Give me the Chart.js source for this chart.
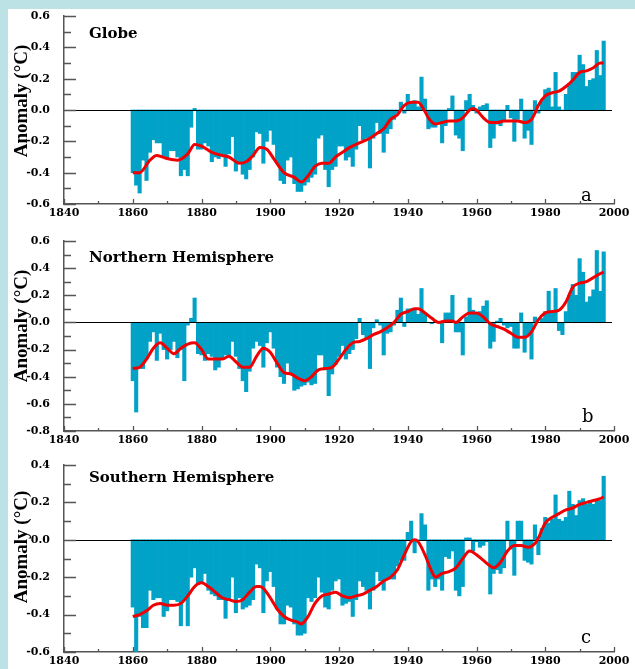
<!DOCTYPE html>
<html>
<head>
<meta charset="utf-8">
<title>Temperature anomalies</title>
<script src="https://cdn.jsdelivr.net/npm/chart.js@4.4.0/dist/chart.umd.min.js"></script>
<style>
    body { margin: 0; background: #bce2e6; }
    #page { position: relative; width: 635px; height: 669px; overflow: hidden; }
    #sheet { position: absolute; left: 8px; top: 9px; right: 0; bottom: 0; background: #fff; }
    canvas { position: absolute; left: 0; }
    .ytitle { position: absolute; left: 21px; font: bold 19px "Liberation Serif", serif; white-space: nowrap; transform: translate(-50%, -50%) rotate(-90deg); }
    .ptitle { position: absolute; left: 89px; font: bold 15px "DejaVu Serif", serif; line-height: 1; }
    .letter { position: absolute; font: 18px "DejaVu Serif", serif; line-height: 1; }
</style>
</head>
<body>
<div id="page">
    <div id="sheet"></div>
    <canvas id="chartGlobe" width="635" height="222" style="top:0px"></canvas>
    <canvas id="chartNorth" width="635" height="224" style="top:225px"></canvas>
    <canvas id="chartSouth" width="635" height="221" style="top:449px"></canvas>

    <div class="ytitle" style="top:101px">Anomaly (°C)</div>
    <div class="ytitle" style="top:326px">Anomaly (°C)</div>
    <div class="ytitle" style="top:547px">Anomaly (°C)</div>

    <div class="ptitle" style="top:26px">Globe</div>
    <div class="ptitle" style="top:250px">Northern Hemisphere</div>
    <div class="ptitle" style="top:470px">Southern Hemisphere</div>

    <div class="letter" style="left:581px;top:186px">a</div>
    <div class="letter" style="left:582px;top:407px">b</div>
    <div class="letter" style="left:581px;top:628px">c</div>
</div>

<script>
// Annual anomalies (°C), one value per year from 1860 to 1997
const firstYear = 1860;

const globeValues = [
    -0.40, -0.48, -0.53, -0.32, -0.45, -0.27, -0.19, -0.21, -0.21, -0.30,
    -0.31, -0.26, -0.26, -0.30, -0.42, -0.38, -0.42, -0.11, 0.01, -0.25,
    -0.25, -0.21, -0.23, -0.33, -0.30, -0.31, -0.28, -0.36, -0.28, -0.17,
    -0.39, -0.34, -0.41, -0.44, -0.38, -0.30, -0.14, -0.15, -0.34, -0.20,
    -0.13, -0.22, -0.34, -0.45, -0.47, -0.32, -0.30, -0.47, -0.52, -0.52,
    -0.48, -0.46, -0.43, -0.41, -0.18, -0.16, -0.38, -0.49, -0.38, -0.36,
    -0.23, -0.23, -0.32, -0.30, -0.36, -0.25, -0.10, -0.19, -0.18, -0.37,
    -0.18, -0.08, -0.15, -0.27, -0.15, -0.12, -0.06, -0.02, 0.05, -0.02,
    0.10, 0.05, 0.06, 0.02, 0.21, 0.07, -0.12, -0.11, -0.11, -0.08,
    -0.21, -0.10, 0.01, 0.09, -0.16, -0.18, -0.26, 0.06, 0.10, 0.03,
    -0.02, 0.02, 0.03, 0.04, -0.24, -0.18, -0.09, -0.10, -0.07, 0.03,
    -0.05, -0.20, -0.06, 0.07, -0.18, -0.13, -0.22, 0.06, -0.02, 0.06,
    0.13, 0.14, 0.02, 0.24, 0.02, 0.00, 0.10, 0.17, 0.24, 0.24,
    0.35, 0.29, 0.15, 0.19, 0.20, 0.38, 0.22, 0.44
];

const northValues = [
    -0.43, -0.66, -0.34, -0.34, -0.27, -0.14, -0.07, -0.28, -0.08, -0.20,
    -0.27, -0.20, -0.14, -0.26, -0.20, -0.43, -0.02, 0.03, 0.18, -0.23,
    -0.24, -0.28, -0.23, -0.25, -0.35, -0.33, -0.27, -0.24, -0.25, -0.14,
    -0.25, -0.34, -0.43, -0.51, -0.36, -0.19, -0.14, -0.17, -0.33, -0.15,
    -0.07, -0.19, -0.33, -0.40, -0.45, -0.30, -0.37, -0.50, -0.49, -0.47,
    -0.46, -0.44, -0.46, -0.45, -0.24, -0.24, -0.35, -0.54, -0.38, -0.31,
    -0.25, -0.17, -0.27, -0.23, -0.20, -0.12, 0.03, -0.09, -0.12, -0.34,
    -0.04, 0.02, -0.02, -0.24, -0.08, -0.07, -0.02, 0.09, 0.18, -0.03,
    0.10, 0.10, 0.09, 0.06, 0.25, 0.07, 0.00, -0.01, 0.01, 0.00,
    -0.15, 0.07, 0.07, 0.20, -0.07, -0.07, -0.24, 0.04, 0.18, 0.09,
    0.07, 0.08, 0.12, 0.16, -0.19, -0.14, 0.01, 0.03, -0.02, -0.04,
    -0.03, -0.19, -0.19, 0.07, -0.22, -0.09, -0.27, 0.04, 0.00, 0.03,
    0.08, 0.23, 0.08, 0.25, -0.06, -0.09, 0.08, 0.20, 0.28, 0.20,
    0.47, 0.37, 0.15, 0.19, 0.24, 0.53, 0.23, 0.52
];

const southValues = [
    -0.36, -0.60, -0.41, -0.47, -0.47, -0.27, -0.32, -0.31, -0.31, -0.41,
    -0.38, -0.32, -0.32, -0.33, -0.46, -0.32, -0.46, -0.20, -0.15, -0.24,
    -0.23, -0.18, -0.27, -0.29, -0.30, -0.32, -0.32, -0.42, -0.32, -0.20,
    -0.39, -0.31, -0.37, -0.36, -0.35, -0.32, -0.13, -0.15, -0.39, -0.22,
    -0.17, -0.25, -0.37, -0.45, -0.45, -0.35, -0.36, -0.45, -0.51, -0.51,
    -0.50, -0.31, -0.33, -0.31, -0.20, -0.28, -0.36, -0.37, -0.27, -0.22,
    -0.21, -0.35, -0.34, -0.33, -0.41, -0.32, -0.22, -0.25, -0.27, -0.37,
    -0.27, -0.17, -0.22, -0.27, -0.21, -0.21, -0.21, -0.14, -0.11, -0.11,
    0.04, 0.10, -0.07, 0.00, 0.14, 0.08, -0.27, -0.21, -0.25, -0.21,
    -0.27, -0.09, -0.10, -0.06, -0.27, -0.30, -0.25, 0.01, 0.01, -0.06,
    -0.01, -0.04, -0.03, -0.01, -0.29, -0.18, -0.16, -0.18, -0.15, 0.10,
    -0.05, -0.19, 0.10, 0.10, -0.11, -0.12, -0.13, 0.08, -0.08, 0.06,
    0.12, 0.09, 0.11, 0.24, 0.11, 0.10, 0.12, 0.26, 0.19, 0.13,
    0.21, 0.22, 0.19, 0.21, 0.19, 0.21, 0.21, 0.34
];

const globeSmoothYears = [1860, 1862, 1865, 1867, 1870, 1873, 1876, 1878, 1880, 1883, 1886, 1888, 1891, 1893, 1895, 1897, 1899, 1901, 1904, 1907, 1909, 1911, 1913, 1915, 1917, 1919, 1921, 1923, 1925, 1927, 1929, 1931, 1933, 1935, 1937, 1939, 1941, 1943, 1945, 1946, 1948, 1950, 1952, 1954, 1956, 1958, 1959, 1960, 1962, 1964, 1966, 1968, 1970, 1972, 1974, 1976, 1977, 1978, 1980, 1982, 1984, 1986, 1988, 1990, 1992, 1994, 1996, 1997];
const globeSmooth = [-0.40, -0.40, -0.32, -0.29, -0.31, -0.32, -0.28, -0.22, -0.23, -0.27, -0.29, -0.30, -0.34, -0.33, -0.29, -0.24, -0.25, -0.31, -0.40, -0.43, -0.46, -0.42, -0.36, -0.34, -0.34, -0.30, -0.27, -0.24, -0.22, -0.20, -0.18, -0.15, -0.12, -0.06, -0.03, 0.03, 0.05, 0.05, -0.01, -0.05, -0.09, -0.08, -0.07, -0.07, -0.05, 0.00, 0.01, 0.00, -0.05, -0.08, -0.08, -0.07, -0.07, -0.07, -0.08, -0.06, -0.02, 0.03, 0.09, 0.11, 0.12, 0.15, 0.19, 0.24, 0.25, 0.27, 0.30, 0.30];

const northSmoothYears = [1860, 1862, 1864, 1866, 1868, 1870, 1872, 1874, 1876, 1878, 1880, 1882, 1884, 1886, 1888, 1890, 1892, 1894, 1896, 1898, 1900, 1902, 1904, 1906, 1908, 1910, 1912, 1914, 1916, 1918, 1920, 1922, 1924, 1926, 1928, 1930, 1932, 1934, 1936, 1938, 1940, 1942, 1943, 1945, 1947, 1949, 1951, 1953, 1954, 1956, 1958, 1960, 1962, 1964, 1966, 1968, 1970, 1972, 1974, 1976, 1978, 1980, 1982, 1984, 1986, 1988, 1990, 1992, 1994, 1996, 1997];
const northSmooth = [-0.34, -0.33, -0.27, -0.19, -0.15, -0.19, -0.23, -0.19, -0.16, -0.15, -0.20, -0.27, -0.27, -0.27, -0.25, -0.29, -0.33, -0.33, -0.25, -0.19, -0.22, -0.30, -0.37, -0.38, -0.41, -0.43, -0.40, -0.35, -0.34, -0.33, -0.27, -0.20, -0.15, -0.14, -0.12, -0.09, -0.07, -0.04, 0.00, 0.06, 0.08, 0.10, 0.10, 0.07, 0.03, 0.00, 0.01, 0.01, 0.00, 0.04, 0.07, 0.07, 0.04, -0.01, -0.03, -0.05, -0.08, -0.11, -0.11, -0.07, 0.02, 0.07, 0.08, 0.09, 0.15, 0.26, 0.29, 0.30, 0.33, 0.36, 0.37];

const southSmoothYears = [1860, 1862, 1864, 1866, 1868, 1870, 1872, 1874, 1876, 1878, 1880, 1882, 1884, 1886, 1888, 1890, 1892, 1894, 1896, 1897, 1898, 1900, 1902, 1904, 1906, 1908, 1909, 1911, 1913, 1915, 1917, 1919, 1921, 1923, 1925, 1927, 1929, 1931, 1933, 1935, 1937, 1939, 1941, 1942, 1943, 1945, 1947, 1948, 1950, 1952, 1954, 1956, 1958, 1960, 1962, 1964, 1965, 1967, 1969, 1971, 1973, 1975, 1977, 1978, 1980, 1982, 1984, 1986, 1988, 1990, 1992, 1994, 1996, 1997];
const southSmooth = [-0.41, -0.40, -0.38, -0.35, -0.34, -0.35, -0.35, -0.34, -0.30, -0.25, -0.23, -0.25, -0.28, -0.31, -0.32, -0.33, -0.32, -0.28, -0.25, -0.25, -0.26, -0.31, -0.37, -0.41, -0.43, -0.44, -0.45, -0.41, -0.34, -0.30, -0.29, -0.28, -0.30, -0.31, -0.30, -0.29, -0.27, -0.25, -0.22, -0.20, -0.16, -0.08, -0.01, 0.00, -0.01, -0.08, -0.17, -0.20, -0.18, -0.17, -0.15, -0.10, -0.06, -0.08, -0.11, -0.14, -0.15, -0.12, -0.06, -0.03, -0.03, -0.04, -0.02, 0.01, 0.09, 0.12, 0.14, 0.16, 0.17, 0.19, 0.20, 0.21, 0.22, 0.23];

// Tick labels
const yearTicks = [1840, 1860, 1880, 1900, 1920, 1940, 1960, 1980, 2000];
const globeTicks = [-0.6, -0.4, -0.2, 0.0, 0.2, 0.4, 0.6];
const northTicks = [-0.8, -0.6, -0.4, -0.2, 0.0, 0.2, 0.4, 0.6];
const southTicks = [-0.6, -0.4, -0.2, 0.0, 0.2, 0.4];

const barColor = '#00a2c7';
const curveColor = '#f00000';
const axisColor = '#555';
const tickFont = { family: '"DejaVu Serif", serif', size: 11, weight: 'bold' };

// Zero line over the bars, inward ticks on both axes
const axisMarks = {
    id: 'axisMarks',
    afterDatasetDraw(chart, args) {
        if (args.index !== 0) return;
        const { ctx, chartArea, scales } = chart;
        const y0 = Math.round(scales.y.getPixelForValue(0)) + 0.5;
        ctx.save();
        ctx.strokeStyle = '#000';
        ctx.lineWidth = 1.2;
        ctx.beginPath();
        ctx.moveTo(chartArea.left, y0);
        ctx.lineTo(chartArea.right - 2, y0);
        ctx.stroke();
        ctx.restore();
    },
    afterDraw(chart) {
        const { ctx, chartArea, scales } = chart;
        const xs = scales.x;
        const ys = scales.y;
        ctx.save();
        ctx.strokeStyle = axisColor;
        ctx.lineWidth = 1.3;
        ctx.beginPath();
        for (let i = Math.round(ys.min * 10); i <= Math.round(ys.max * 10); i++) {
            const py = Math.round(ys.getPixelForValue(i / 10)) + 0.5;
            const len = i % 2 === 0 ? 12 : 7;
            ctx.moveTo(chartArea.left, py);
            ctx.lineTo(chartArea.left + len, py);
        }
        for (let yr = xs.min; yr <= xs.max; yr += 10) {
            const px = Math.round(xs.getPixelForValue(yr)) + 0.5;
            const len = yr % 20 === 0 ? 5 : 3;
            ctx.moveTo(px, chartArea.bottom);
            ctx.lineTo(px, chartArea.bottom - len);
        }
        ctx.stroke();
        ctx.restore();
    }
};

function yearPoints(values) {
    return values.map((v, i) => ({ x: firstYear + i, y: v }));
}

function pairPoints(years, values) {
    return years.map((yr, i) => ({ x: yr, y: values[i] }));
}

function makePanel(canvasId, values, smoothYears, smoothValues, yTicks) {
    const ctx = document.getElementById(canvasId).getContext('2d');
    return new Chart(ctx, {
        type: 'bar',
        data: {
            datasets: [{
                type: 'bar',
                data: yearPoints(values),
                backgroundColor: barColor,
                borderWidth: 0,
                barPercentage: 1,
                categoryPercentage: 1,
                order: 2
            }, {
                type: 'line',
                data: pairPoints(smoothYears, smoothValues),
                borderColor: curveColor,
                borderWidth: 3,
                pointRadius: 0,
                cubicInterpolationMode: 'monotone',
                fill: false,
                order: 1
            }]
        },
        options: {
            responsive: false,
            animation: false,
            layout: { padding: { top: 16, right: 21, left: 0, bottom: 0 } },
            plugins: { legend: { display: false }, tooltip: { enabled: false } },
            scales: {
                x: {
                    type: 'linear',
                    min: 1840,
                    max: 2000,
                    offset: false,
                    grid: { display: false, drawTicks: false },
                    border: { display: true, color: axisColor, width: 1.5 },
                    afterBuildTicks: s => { s.ticks = yearTicks.map(v => ({ value: v })); },
                    afterFit: s => { s.height = 18; },
                    ticks: {
                        autoSkip: false,
                        maxRotation: 0,
                        padding: 3,
                        color: '#000',
                        font: tickFont,
                        callback: v => String(v)
                    }
                },
                y: {
                    min: yTicks[0],
                    max: yTicks[yTicks.length - 1],
                    grid: { display: false },
                    border: { display: true, color: axisColor, width: 1.5 },
                    afterBuildTicks: s => { s.ticks = yTicks.map(v => ({ value: v })); },
                    afterFit: s => { s.width = 64; },
                    ticks: {
                        padding: 6,
                        color: '#000',
                        font: tickFont,
                        callback: v => Math.abs(v) < 1e-9 ? '0.0' : v.toFixed(1)
                    }
                }
            }
        },
        plugins: [axisMarks]
    });
}

makePanel('chartGlobe', globeValues, globeSmoothYears, globeSmooth, globeTicks);
makePanel('chartNorth', northValues, northSmoothYears, northSmooth, northTicks);
makePanel('chartSouth', southValues, southSmoothYears, southSmooth, southTicks);
</script>
</body>
</html>
